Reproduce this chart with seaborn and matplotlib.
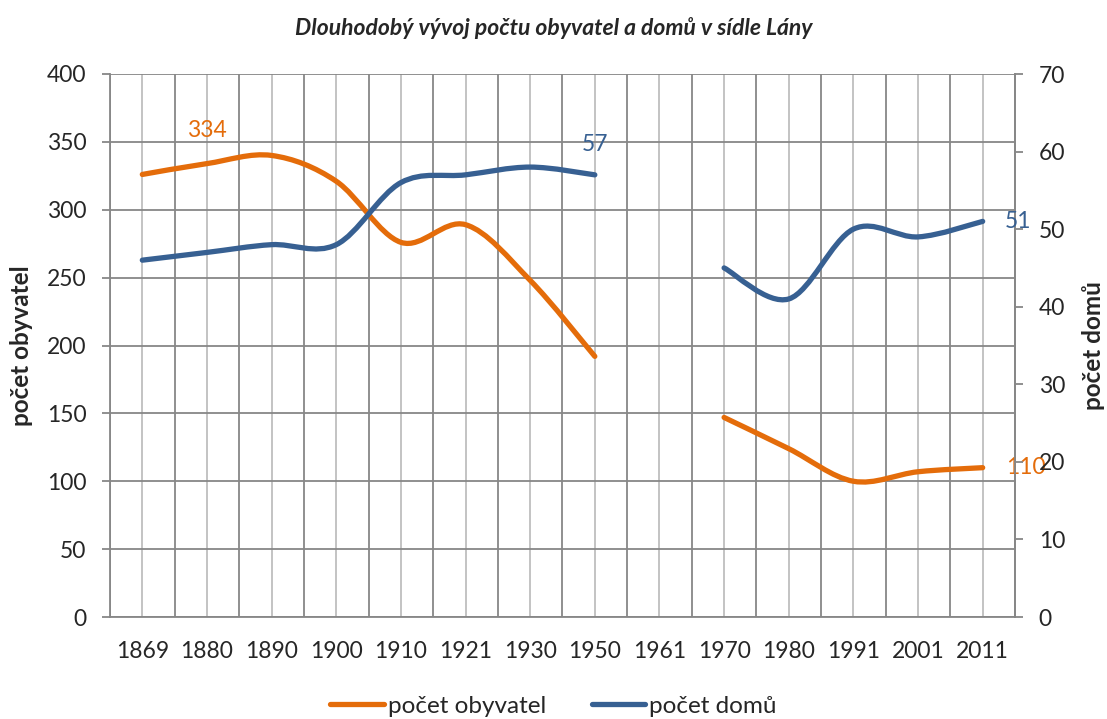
import numpy as np
import pandas as pd
import matplotlib
matplotlib.use("Agg")
import matplotlib.pyplot as plt
import seaborn as sns
from matplotlib.lines import Line2D
from matplotlib.path import Path
from matplotlib.patheffects import AbstractPathEffect
from matplotlib.transforms import IdentityTransform

years = ["1869", "1880", "1890", "1900", "1910", "1921", "1930",
         "1950", "1961", "1970", "1980", "1991", "2001", "2011"]
# None = no census value (gap in the line)
obyvatel = [326, 334, 340, 321, 276, 289, 248, 192, None, 147, 124, 100, 107, 110]
domy = [46, 47, 48, 48, 56, 57, 58, 57, None, 45, 41, 50, 49, 51]

orange = "#E46C0A"
blue = "#376092"
grid_dark = "#878787"
grid_light = "#BEBEBE"


class Smooth(AbstractPathEffect):
    """Draw the polyline as an Excel-like smoothed curve (Catmull-Rom bezier)."""
    def draw_path(self, renderer, gc, tpath, affine, rgbFace=None):
        pts = affine.transform(tpath.vertices)
        if len(pts) < 3:
            renderer.draw_path(gc, tpath, affine, rgbFace)
            return
        ext = np.vstack([pts[0], pts, pts[-1]])
        verts = [pts[0]]
        for i in range(len(pts) - 1):
            p0, p1, p2, p3 = ext[i], ext[i + 1], ext[i + 2], ext[i + 3]
            verts += [p1 + (p2 - p0) / 6, p2 - (p3 - p1) / 6, p2]
        codes = [Path.MOVETO] + [Path.CURVE4] * (len(verts) - 1)
        renderer.draw_path(gc, Path(np.array(verts), codes), IdentityTransform(), rgbFace)


def long_form(values):
    rows = []
    seg = 0
    for i, v in enumerate(values):
        if v is None:
            seg += 1
            continue
        rows.append({"pos": i, "val": v, "seg": seg})
    return pd.DataFrame(rows)


sns.set_style("white")
plt.rcParams["font.family"] = ["Lato", "DejaVu Sans"]

fig = plt.figure(figsize=(11.07, 7.19), dpi=100)
ax = fig.add_axes([110 / 1107, 1 - 617 / 719, 905 / 1107, 543 / 719])
ax2 = ax.twinx()

lw = 3.8
sns.lineplot(data=long_form(obyvatel), x="pos", y="val", units="seg", estimator=None,
             color=orange, lw=lw, solid_capstyle="round", path_effects=[Smooth()],
             legend=False, ax=ax)
sns.lineplot(data=long_form(domy), x="pos", y="val", units="seg", estimator=None,
             color=blue, lw=lw, solid_capstyle="round", path_effects=[Smooth()],
             legend=False, ax=ax2)

n = len(years)
ax.set_xlim(-0.5, n - 0.5)
ax.set_ylim(0, 400)
ax2.set_ylim(0, 70)
ax.set_yticks(np.arange(0, 401, 50))
ax2.set_yticks(np.arange(0, 71, 10))

ax.set_xticks(np.arange(-0.5, n, 1))
ax.set_xticklabels([])
ax.set_xticks(np.arange(n), minor=True)
ax.set_xticklabels(years, minor=True)

ax.grid(True, which="major", color=grid_dark, lw=1.3)
ax.grid(True, which="minor", axis="x", color=grid_light, lw=1.3)
ax.set_axisbelow(True)

fs = 16.5
ax.tick_params(axis="x", which="major", length=6, width=1.3, color=grid_dark, direction="out")
ax.tick_params(axis="x", which="minor", length=0, pad=17, labelsize=fs)
ax.tick_params(axis="y", length=6, width=1.3, color=grid_dark, pad=11, labelsize=fs, direction="out")
ax2.tick_params(axis="y", length=6, width=1.3, color=grid_dark, pad=11, labelsize=fs, direction="out")

for a in (ax, ax2):
    for s in a.spines.values():
        s.set_color(grid_dark)
        s.set_linewidth(1.3)
    a.spines["top"].set_visible(False)
ax2.spines["left"].set_visible(False)
ax2.spines["bottom"].set_visible(False)

ax.set_xlabel("")
ax.set_ylabel("počet obyvatel", fontsize=17.5, fontweight="bold", labelpad=10)
ax2.set_ylabel("počet domů", fontsize=17.5, fontweight="bold", labelpad=12)

# data labels (the 110 label sits over the right-axis "20" just like the original)
ax.annotate(str(obyvatel[1]), (1, obyvatel[1]), xytext=(0, 16), textcoords="offset points",
            ha="center", va="bottom", color=orange, fontsize=fs)
ax.annotate(str(obyvatel[-1]), (n - 1, obyvatel[-1]), xytext=(17, 0), textcoords="offset points",
            ha="left", va="center", color=orange, fontsize=fs)
ax2.annotate(str(domy[7]), (7, domy[7]), xytext=(0, 14), textcoords="offset points",
             ha="center", va="bottom", color=blue, fontsize=fs)
ax2.annotate(str(domy[-1]), (n - 1, domy[-1]), xytext=(16, 0), textcoords="offset points",
             ha="left", va="center", color=blue, fontsize=fs)

fig.suptitle("Dlouhodobý vývoj počtu obyvatel a domů v sídle Lány", x=0.5, y=0.977,
             fontsize=16.5, fontweight="bold", fontstyle="italic")

handles = [Line2D([], [], color=orange, lw=lw, solid_capstyle="round"),
           Line2D([], [], color=blue, lw=lw, solid_capstyle="round")]
fig.legend(handles, ["počet obyvatel", "počet domů"], loc="lower center",
           bbox_to_anchor=(0.5, -0.027), ncol=2, frameon=False, fontsize=17.5,
           handlelength=2.2, handletextpad=0.15, columnspacing=1.9)

fig.savefig("out.png", dpi=100)
